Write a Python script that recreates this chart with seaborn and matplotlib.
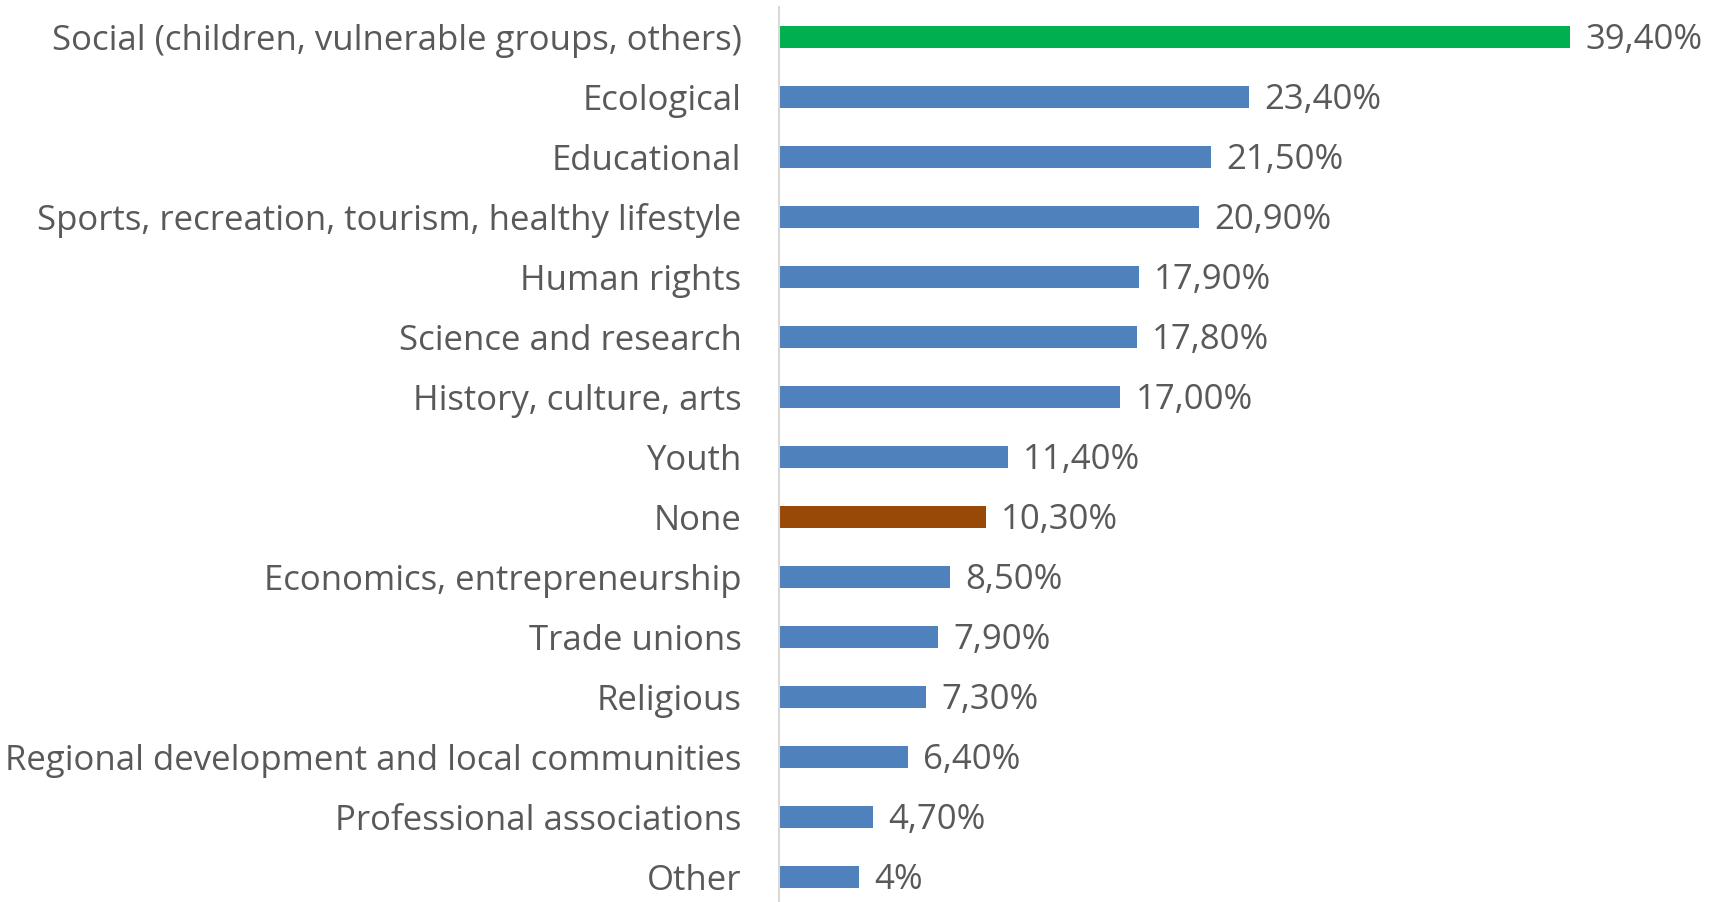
import numpy as np
import pandas as pd
import seaborn as sns
import matplotlib.pyplot as plt

categories = [
    'Social (children, vulnerable groups, others)',
    'Ecological',
    'Educational',
    'Sports, recreation, tourism, healthy lifestyle',
    'Human rights',
    'Science and research',
    'History, culture, arts',
    'Youth',
    'None',
    'Economics, entrepreneurship',
    'Trade unions',
    'Religious',
    'Regional development and local communities',
    'Professional associations',
    'Other',
]
shares = [39.4, 23.4, 21.5, 20.9, 17.9, 17.8, 17.0, 11.4, 10.3, 8.5, 7.9, 7.3, 6.4, 4.7, 4.0]
value_labels = ['39,40%', '23,40%', '21,50%', '20,90%', '17,90%', '17,80%', '17,00%', '11,40%',
                '10,30%', '8,50%', '7,90%', '7,30%', '6,40%', '4,70%', '4%']

blue = '#4f81bd'
palette = {c: blue for c in categories}
palette[categories[0]] = '#00b050'
palette['None'] = '#984807'

df = pd.DataFrame({'category': categories, 'share': shares})

sns.set_style('white')
plt.rcParams['font.family'] = ['Open Sans', 'DejaVu Sans']
text_color = '#595959'

fig = plt.figure(figsize=(17.21, 9.02), dpi=100)
ax = fig.add_axes([779 / 1721, -5 / 902, 1 - 779 / 1721, 900 / 902])

sns.barplot(data=df, x='share', y='category', hue='category', palette=palette,
            order=categories, orient='h', width=0.37, legend=False, ax=ax,
            edgecolor='none', saturation=1)

ax.set_xlim(0, 46.9)
ax.set_ylim(14.5, -0.5)
ax.set_xlabel('')
ax.set_ylabel('')
ax.set_xticks([])
ax.tick_params(axis='y', length=0, pad=27, labelsize=25, labelcolor=text_color)

for s in ['top', 'right', 'bottom']:
    ax.spines[s].set_visible(False)
ax.spines['left'].set_color('#d9d9d9')
ax.spines['left'].set_linewidth(1.5)

for i, (v, lab) in enumerate(zip(shares, value_labels)):
    ax.annotate(lab, (v, i), xytext=(11, -2), textcoords='offset points',
                va='center', ha='left', fontsize=25, color=text_color)

fig.savefig('out.png', dpi=100)
